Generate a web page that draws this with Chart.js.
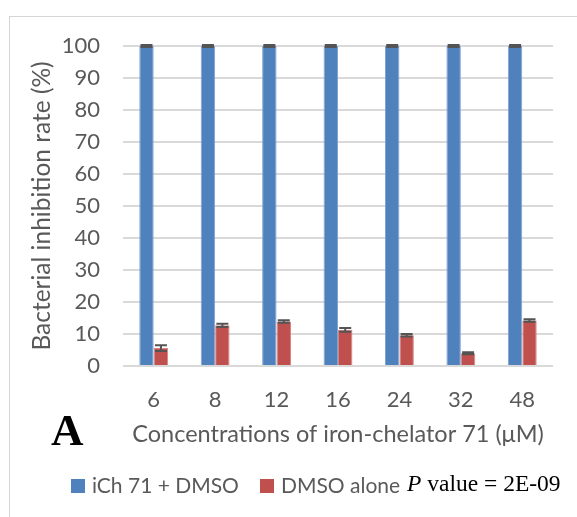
<!DOCTYPE html>
<html>
<head>
<meta charset="utf-8">
<script src="https://cdn.jsdelivr.net/npm/chart.js@4"></script>
<style>
  html, body { margin: 0; padding: 0; background: #fff; }
  body { width: 577px; height: 517px; position: relative; overflow: hidden; }
  #frame { position: absolute; left: 9px; top: 16px; width: 700px; height: 700px;
           border-left: 1px solid #d6d6d6; border-top: 1px solid #d6d6d6; }
  #chart { position: absolute; left: 0; top: 0; }
  .panel { position: absolute; left: 51px; top: 404px; font: bold 45px "Liberation Serif", "Times New Roman", serif; color: #000; }
  .legend-item { position: absolute; top: 472px; font: 21px Lato, sans-serif; color: #595959; white-space: nowrap; }
  .legend-item .sw { position: absolute; width: 14px; height: 14px; top: 7px; }
  .pval { position: absolute; left: 407px; top: 470px; font: 23.5px "Liberation Serif", "Times New Roman", serif; color: #000; white-space: nowrap; }
</style>
</head>
<body>
<div id="frame"></div>
<canvas id="chart" width="577" height="517"></canvas>
<div class="panel">A</div>
<div id="legend"></div>
<div class="pval"><i>P</i> value = 2E-09</div>
<script>
// Concentrations of iron-chelator 71 (µM)
const concentrations = ['6', '8', '12', '16', '24', '32', '48'];
// Inhibition rate (%) with the chelator in DMSO, and its error bars
const chelatorValues = [100, 100, 100, 100, 100, 100, 100];
const chelatorErrors = [0.3, 0.3, 0.3, 0.3, 0.3, 0.3, 0.3];
// Inhibition rate (%) with DMSO alone, and its error bars
const dmsoValues = [5.6, 12.7, 13.9, 11.3, 9.6, 4.0, 14.2];
const dmsoErrors = [0.9, 0.5, 0.4, 0.6, 0.4, 0.3, 0.4];
// Y axis ticks
const yTicks = [0, 10, 20, 30, 40, 50, 60, 70, 80, 90, 100];

const TEXT = '#595959';
const GRID = '#d9d9d9';

// Draws symmetric error bars on each bar from the dataset's `errors` array
const errorBars = {
  id: 'errorBars',
  afterDatasetsDraw(chart) {
    const { ctx } = chart;
    const y = chart.scales.y;
    chart.data.datasets.forEach((ds, i) => {
      const meta = chart.getDatasetMeta(i);
      meta.data.forEach((bar, j) => {
        const v = ds.data[j], e = ds.errors[j];
        const yTop = y.getPixelForValue(v + e);
        const yBot = y.getPixelForValue(v - e);
        const x = bar.x, half = 6;
        ctx.save();
        ctx.strokeStyle = '#545454';
        ctx.lineWidth = 2;
        ctx.beginPath();
        ctx.moveTo(x, yTop); ctx.lineTo(x, yBot);
        ctx.moveTo(x - half, yTop); ctx.lineTo(x + half, yTop);
        ctx.moveTo(x - half, yBot); ctx.lineTo(x + half, yBot);
        ctx.stroke();
        ctx.restore();
      });
    });
  }
};

const chart = new Chart(document.getElementById('chart'), {
  type: 'bar',
  data: {
    labels: concentrations,
    datasets: [
      { label: 'iCh 71 + DMSO', data: chelatorValues, errors: chelatorErrors,
        backgroundColor: '#4F81BD', borderColor: '#7FA3D3', borderWidth: 1 },
      { label: 'DMSO alone', data: dmsoValues, errors: dmsoErrors,
        backgroundColor: '#C0504D', borderColor: '#D88583', borderWidth: 1 }
    ]
  },
  options: {
    responsive: false,
    animation: false,
    devicePixelRatio: 1,
    layout: { padding: { top: 46, left: 27, right: 24, bottom: 68 } },
    datasets: { bar: { categoryPercentage: 0.47, barPercentage: 1.0 } },
    plugins: { legend: { display: false }, tooltip: { enabled: false } },
    scales: {
      x: {
        afterFit(s) { s.height = 83; },
        grid: { display: false, drawTicks: false },
        border: { display: false },
        ticks: { color: TEXT, padding: 21, font: { family: 'Lato', size: 22 } },
        title: { display: true, text: 'Concentrations of iron-chelator 71 (\u03bcM)',
                 color: TEXT, padding: 0, font: { family: 'Lato', size: 23.5, lineHeight: 1.2 } }
      },
      y: {
        min: 0, max: 100,
        afterFit(s) { s.width = 96; },
        afterBuildTicks(s) { s.ticks = yTicks.map(v => ({ value: v })); },
        grid: { color: GRID, lineWidth: 2, drawTicks: false },
        border: { display: false },
        ticks: { color: TEXT, padding: 23, font: { family: 'Lato', size: 22 } },
        title: { display: true, text: 'Bacterial inhibition rate (%)',
                 color: TEXT, padding: 0, font: { family: 'Lato', size: 24.5, lineHeight: 1.2 } }
      }
    }
  },
  plugins: [errorBars]
});

// Legend built from the chart's datasets
const legendPos = [71, 260];
const legend = document.getElementById('legend');
chart.data.datasets.forEach((ds, i) => {
  const item = document.createElement('div');
  item.className = 'legend-item';
  item.style.left = legendPos[i] + 'px';
  item.style.paddingLeft = '21px';
  const sw = document.createElement('span');
  sw.className = 'sw';
  sw.style.left = '0';
  sw.style.background = ds.backgroundColor;
  item.appendChild(sw);
  item.appendChild(document.createTextNode(ds.label));
  legend.appendChild(item);
});
</script>
</body>
</html>
